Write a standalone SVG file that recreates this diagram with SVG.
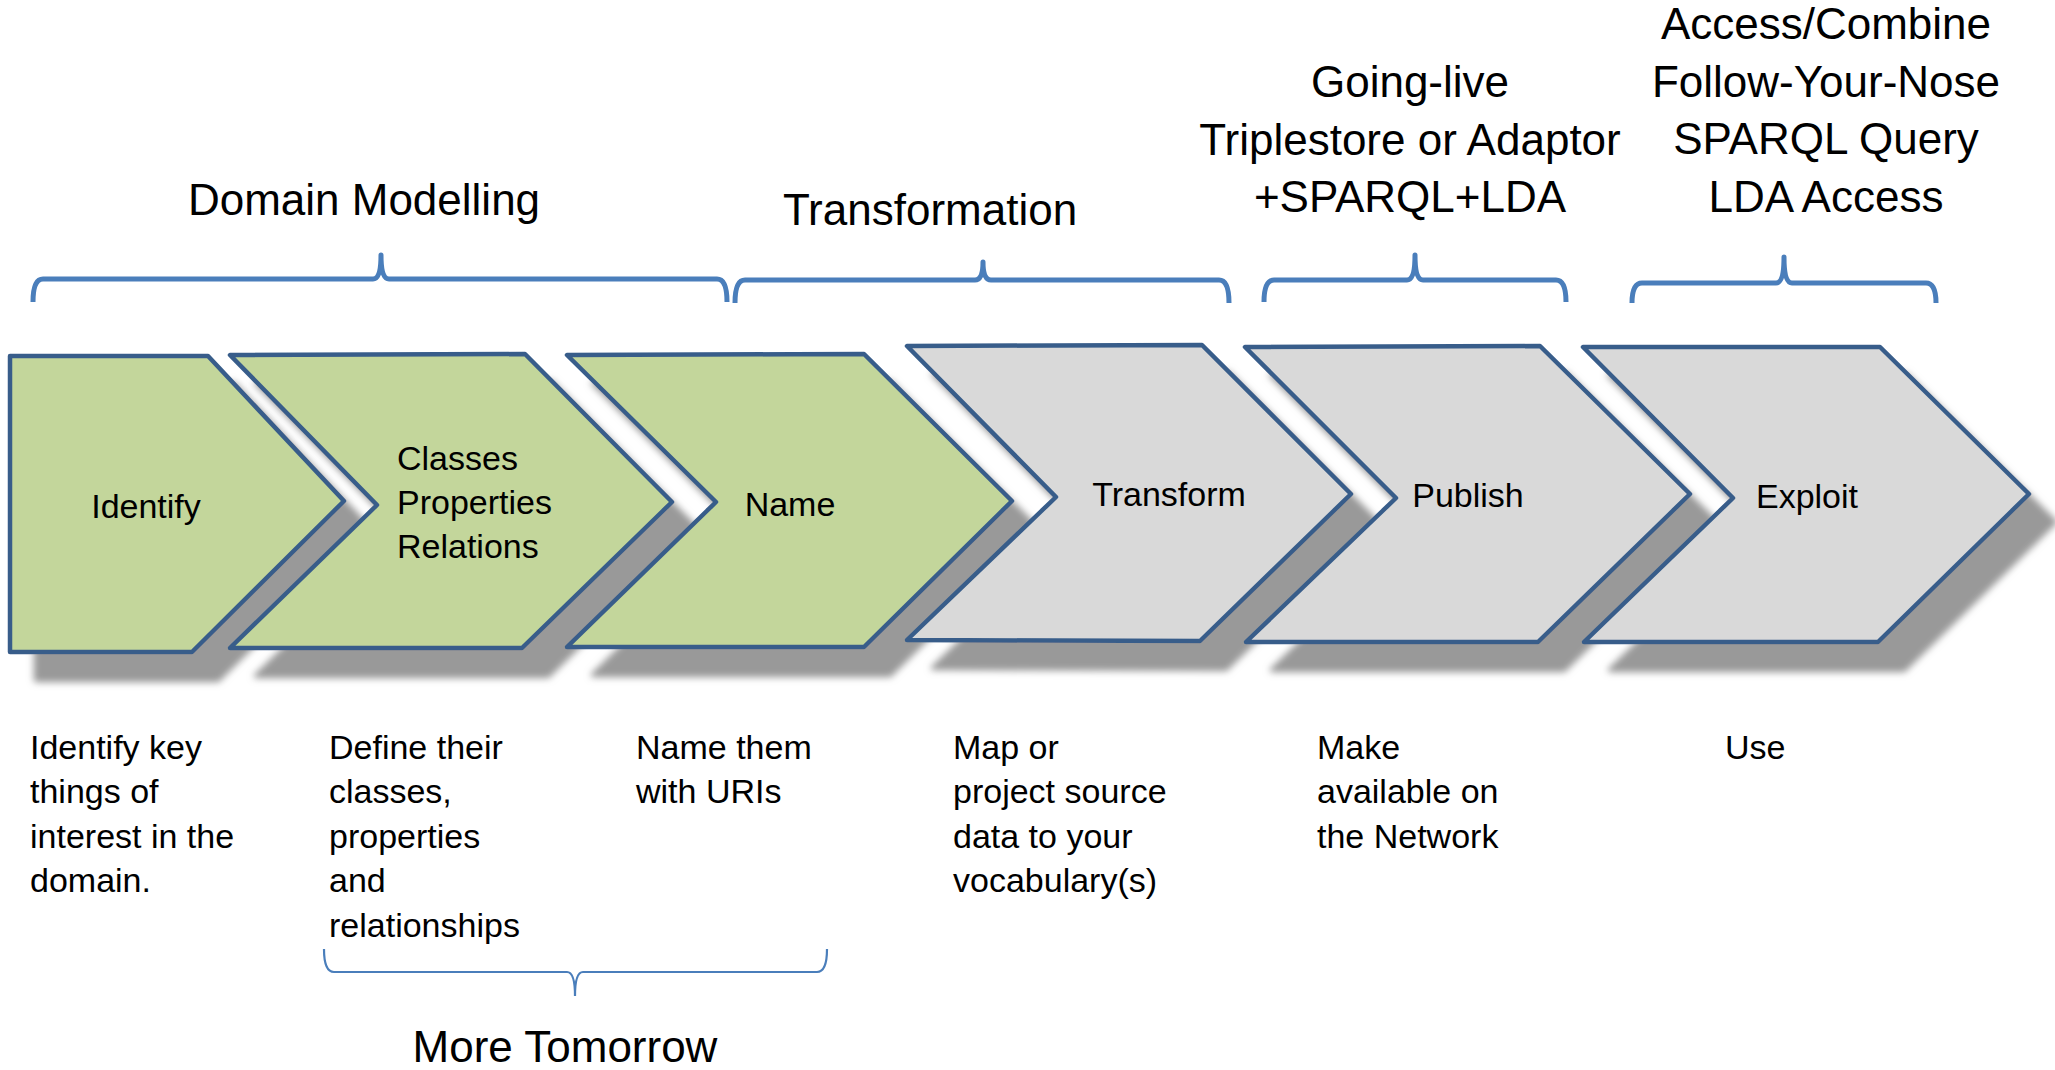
<svg xmlns="http://www.w3.org/2000/svg" width="2055" height="1070" viewBox="0 0 2055 1070">
<style>
.chev{stroke:#385d8a;stroke-width:4.5;stroke-linejoin:round;filter:url(#sh)}
.green{fill:#c3d69b}
.gray{fill:#d9d9d9}
.brace{fill:none;stroke:#4a7ebb;stroke-width:5;stroke-linejoin:round}
.brace-thin{fill:none;stroke:#4a7ebb;stroke-width:2.2}
text{font-family:"Liberation Sans",Arial,sans-serif;fill:#000}
.lab{font-size:34px}
.hdr{font-size:44px;text-anchor:middle}
.mid{text-anchor:middle}
</style>
<defs>
<filter id="sh" x="-10%" y="-10%" width="130%" height="140%">
<feGaussianBlur in="SourceAlpha" stdDeviation="3.5" result="b"/>
<feOffset in="b" dx="26" dy="28" result="o"/>
<feFlood flood-color="#999999"/>
<feComposite in2="o" operator="in" result="s"/>
<feMerge><feMergeNode in="s"/><feMergeNode in="SourceGraphic"/></feMerge>
</filter>
</defs>
<rect width="2055" height="1070" fill="#ffffff"/>

<g id="braces">
<path class="brace" d="M33,302 Q33,279 43,279 L373,279 Q381,279 381,255 Q381,279 389,279 L717,279 Q727,279 727,302"/>
<path class="brace" d="M735,303 Q735,280 745,280 L975,280 Q983,280 983,262 Q983,280 991,280 L1219,280 Q1229,280 1229,303"/>
<path class="brace" d="M1264,302 Q1264,280 1274,280 L1407,280 Q1415,280 1415,255 Q1415,280 1423,280 L1556,280 Q1566,280 1566,302"/>
<path class="brace" d="M1632,303 Q1632,283 1642,283 L1776,283 Q1784,283 1784,257 Q1784,283 1792,283 L1926,283 Q1936,283 1936,303"/>
<path class="brace-thin" d="M324,949 Q324,972 334,972 L567,972 Q575,972 575,996 Q575,972 583,972 L817,972 Q827,972 827,949"/>
</g>

<g id="node-identify">
<path class="chev green" d="M10,356 L208,356 L344,501 L192,652 L10,652 Z"/>
<text class="lab mid" x="146" y="518">Identify</text>
</g>
<g id="node-classes">
<path class="chev green" d="M230,355 L525,354 L672,502 L522,648 L230,648 L377,505 Z"/>
<text class="lab" x="397" y="470">Classes</text>
<text class="lab" x="397" y="514">Properties</text>
<text class="lab" x="397" y="558">Relations</text>
</g>
<g id="node-name">
<path class="chev green" d="M567,355 L864,354 L1012,501 L864,647 L567,647 L716,502 Z"/>
<text class="lab mid" x="790" y="516">Name</text>
</g>
<g id="node-transform">
<path class="chev gray" d="M907,346 L1202,345 L1351,494 L1200,641 L907,640 L1056,497 Z"/>
<text class="lab mid" x="1169" y="506">Transform</text>
</g>
<g id="node-publish">
<path class="chev gray" d="M1245,347 L1540,346 L1690,494 L1538,642 L1246,642 L1396,498 Z"/>
<text class="lab mid" x="1468" y="507">Publish</text>
</g>
<g id="node-exploit">
<path class="chev gray" d="M1583,347 L1880,347 L2029,494 L1878,642 L1584,642 L1733,498 Z"/>
<text class="lab mid" x="1807" y="508">Exploit</text>
</g>

<g id="headers">
<text class="hdr" x="364" y="215">Domain Modelling</text>
<text class="hdr" x="930" y="225">Transformation</text>
<text class="hdr" x="1410" y="97">Going-live</text>
<text class="hdr" x="1410" y="155">Triplestore or Adaptor</text>
<text class="hdr" x="1410" y="212">+SPARQL+LDA</text>
<text class="hdr" x="1826" y="39">Access/Combine</text>
<text class="hdr" x="1826" y="97">Follow-Your-Nose</text>
<text class="hdr" x="1826" y="154">SPARQL Query</text>
<text class="hdr" x="1826" y="212">LDA Access</text>
<text class="hdr" x="565" y="1062">More Tomorrow</text>
</g>

<g id="descriptions" class="lab">
<text class="lab" x="30" y="759">Identify key</text>
<text class="lab" x="30" y="803">things of</text>
<text class="lab" x="30" y="848">interest in the</text>
<text class="lab" x="30" y="892">domain.</text>

<text class="lab" x="329" y="759">Define their</text>
<text class="lab" x="329" y="803">classes,</text>
<text class="lab" x="329" y="848">properties</text>
<text class="lab" x="329" y="892">and</text>
<text class="lab" x="329" y="937">relationships</text>

<text class="lab" x="636" y="759">Name them</text>
<text class="lab" x="636" y="803">with URIs</text>

<text class="lab" x="953" y="759">Map or</text>
<text class="lab" x="953" y="803">project source</text>
<text class="lab" x="953" y="848">data to your</text>
<text class="lab" x="953" y="892">vocabulary(s)</text>

<text class="lab" x="1317" y="759">Make</text>
<text class="lab" x="1317" y="803">available on</text>
<text class="lab" x="1317" y="848">the Network</text>

<text class="lab" x="1725" y="759">Use</text>
</g>
</svg>
